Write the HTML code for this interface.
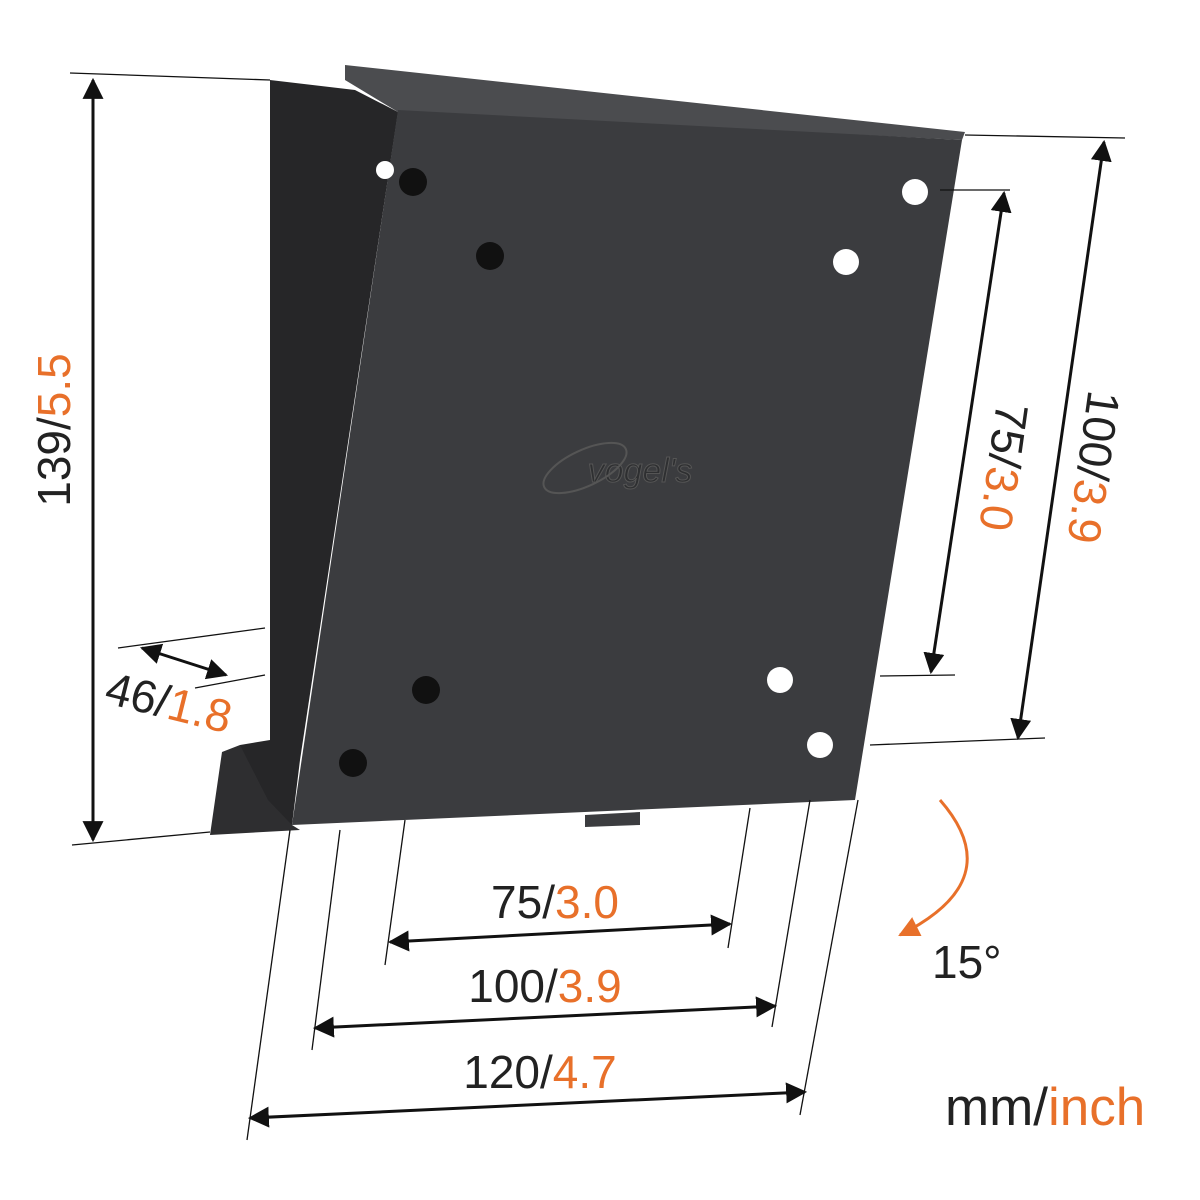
<!DOCTYPE html>
<html><head><meta charset="utf-8"><style>
html,body{margin:0;padding:0;background:#fff}
svg{display:block}
text{font-family:"Liberation Sans",sans-serif;font-size:46px;fill:#222}
.o{fill:#e8702a}
</style></head><body>
<svg width="1200" height="1200" viewBox="0 0 1200 1200" xmlns="http://www.w3.org/2000/svg">
<defs>
<marker id="a" viewBox="0 0 10 10" refX="9" refY="5" markerWidth="7" markerHeight="7" orient="auto-start-reverse"><path d="M0,0 L10,5 L0,10 z" fill="#111"/></marker>
<marker id="ao" viewBox="0 0 10 10" refX="9" refY="5" markerWidth="7" markerHeight="7" orient="auto"><path d="M0,0 L10,5 L0,10 z" fill="#e8702a"/></marker>
</defs>
<polygon points="270,80 355,90 398,112 300,760 292,825 240,800 240,745 270,740" fill="#262628"/>
<polygon points="210,835 222,752 240,745 268,800 292,825 300,830" fill="#2e2e30"/>
<polygon points="345,65 965,132 962,140 398,112 345,80" fill="#4b4c4f"/>
<polygon points="398,110 962,140 855,800 292,825" fill="#3b3c3f"/>
<polygon points="585,815 640,812 640,825 585,827" fill="#3b3c3f"/>
<g fill="#fff"><circle cx="385" cy="170" r="9"/><circle cx="915" cy="192" r="13"/><circle cx="846" cy="262" r="13"/><circle cx="780" cy="680" r="13"/><circle cx="820" cy="745" r="13"/></g>
<g fill="#111"><circle cx="413" cy="182" r="14"/><circle cx="490" cy="256" r="14"/><circle cx="426" cy="690" r="14"/><circle cx="353" cy="763" r="14"/></g>
<text x="640" y="482" text-anchor="middle" font-style="italic" style="font-size:34px;fill:#2e2f31;stroke:#555;stroke-width:1">vogel's</text>
<ellipse cx="585" cy="468" rx="45" ry="18" transform="rotate(-25 585 468)" fill="none" stroke="#555" stroke-width="2"/>
<g stroke="#111" stroke-width="1.3" fill="none">
<line x1="70" y1="73" x2="270" y2="80"/><line x1="72" y1="845" x2="210" y2="832"/>
<line x1="965" y1="135" x2="1125" y2="138"/><line x1="870" y1="745" x2="1045" y2="738"/>
<line x1="940" y1="190" x2="1010" y2="190"/><line x1="880" y1="676" x2="955" y2="675"/>
<line x1="405" y1="820" x2="385" y2="965"/><line x1="750" y1="808" x2="728" y2="948"/>
<line x1="340" y1="830" x2="312" y2="1050"/><line x1="810" y1="800" x2="772" y2="1027"/>
<line x1="290" y1="830" x2="247" y2="1140"/><line x1="858" y1="800" x2="800" y2="1115"/>
<line x1="118" y1="648" x2="265" y2="628"/><line x1="195" y1="688" x2="265" y2="675"/>
</g>
<g stroke="#111" stroke-width="3" fill="none" marker-start="url(#a)" marker-end="url(#a)">
<line x1="93" y1="80" x2="93" y2="840"/>
<line x1="1104" y1="142" x2="1018" y2="738"/>
<line x1="1004" y1="193" x2="931" y2="672"/>
<line x1="390" y1="942" x2="730" y2="924"/>
<line x1="315" y1="1028" x2="775" y2="1006"/>
<line x1="250" y1="1118" x2="805" y2="1092"/>
<line x1="142" y1="648" x2="226" y2="675"/>
</g>
<path d="M940,800 Q1010,880 900,935" stroke="#e8702a" stroke-width="3" fill="none" marker-end="url(#ao)"/>
<text transform="translate(70,430) rotate(-90)" text-anchor="middle">139/<tspan class="o">5.5</tspan></text>
<text transform="translate(1078,465) rotate(98)" text-anchor="middle">100/<tspan class="o">3.9</tspan></text>
<text transform="translate(988,465) rotate(98)" text-anchor="middle">75/<tspan class="o">3.0</tspan></text>
<text x="555" y="918" text-anchor="middle">75/<tspan class="o">3.0</tspan></text>
<text x="545" y="1002" text-anchor="middle">100/<tspan class="o">3.9</tspan></text>
<text x="540" y="1088" text-anchor="middle">120/<tspan class="o">4.7</tspan></text>
<text transform="translate(165,718) rotate(14)" text-anchor="middle">46/<tspan class="o">1.8</tspan></text>
<text x="932" y="978">15°</text>
<text x="945" y="1125" style="font-size:53px">mm/<tspan class="o">inch</tspan></text>
</svg>
</body></html>
